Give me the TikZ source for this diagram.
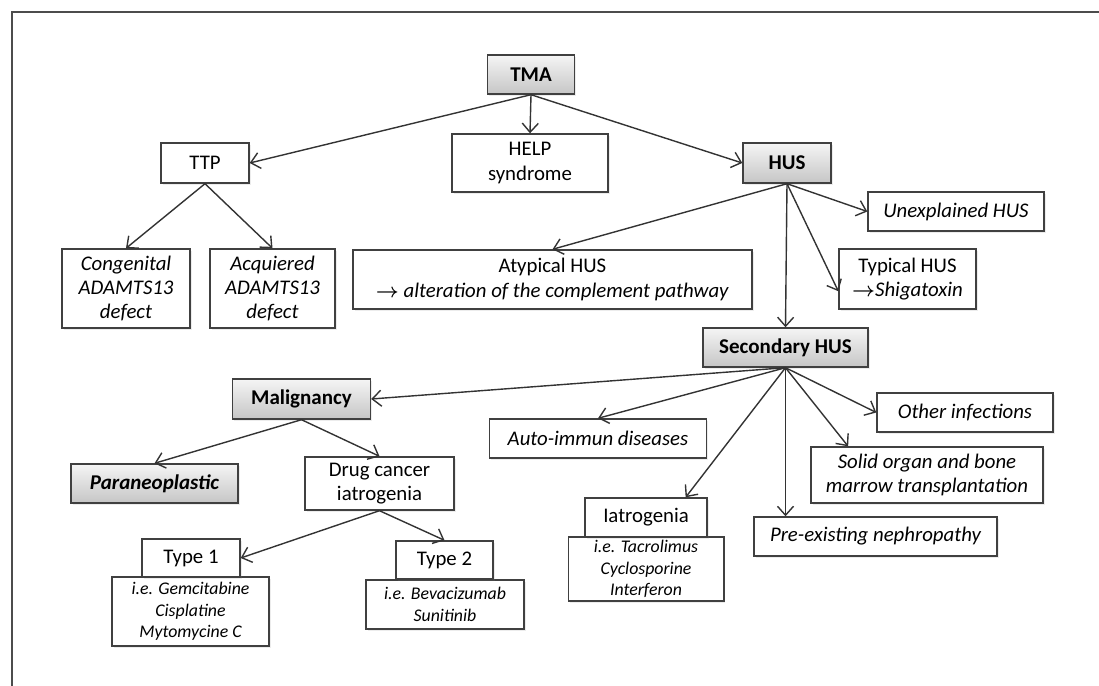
\documentclass[tikz,border=0pt]{standalone}
\usepackage{fontspec}
\setmainfont{Carlito}
\usetikzlibrary{arrows.meta, shadows}

\begin{document}
\begin{tikzpicture}[x = 0.5pt, y = -0.5pt,
		box/.style = {draw = black!75, line width = 0.7pt, fill = white, align = center, inner sep = 0pt, font = \fontsize{10.4}{12.2}\selectfont, drop shadow = {opacity = 0.15, shadow xshift = 0.8pt, shadow yshift = -0.8pt}},
		note/.style = {box, font = \fontsize{10.4}{12.2}\selectfont\itshape},
		detail/.style = {box, font = \fontsize{8.9}{10.8}\selectfont\itshape},
		grey box/.style = {box, top color = gray!8, bottom color = gray!45, font = \fontsize{10.5}{12.2}\selectfont\bfseries},
		link/.style = {draw = black!80, line width = 0.7pt, -{Straight Barb[length = 4.5pt, width = 8pt]}}]
		\useasboundingbox (0, 0) rectangle (1099, 686);
		\draw[black!70, line width = 0.7pt] (12, 686) -- (12, 12) -- (1099, 12);

		\node[grey box, minimum width = 43.75pt, minimum height = 19.5pt] (tma) at (531, 74.5) {TMA};
		\node[box, minimum width = 78pt, minimum height = 29pt] (help) at (530, 163) {HELP\\syndrome};
		\node[box, minimum width = 44pt, minimum height = 20pt] (ttp) at (205, 163) {TTP};
		\node[grey box, minimum width = 44pt, minimum height = 20pt] (hus) at (787, 163) {HUS};
		\node[note, minimum width = 64pt, minimum height = 39.5pt] (congenital) at (126, 288.5) {Congenital\\ADAMTS13\\defect};
		\node[note, minimum width = 62.5pt, minimum height = 39.5pt] (acquired) at (272.5, 288.5) {Acquiered\\ADAMTS13\\defect};
		\node[box, minimum width = 199.5pt, minimum height = 29.5pt] (atypical) at (552.5, 279.5) {Atypical HUS\\{\boldmath$\rightarrow$} \textit{alteration of the complement pathway}};
		\node[note, minimum width = 88pt, minimum height = 19.5pt] (unexplained) at (956, 211.5) {Unexplained HUS};
		\node[box, minimum width = 68.5pt, minimum height = 30pt] (typical) at (907.5, 279) {Typical HUS\\{\boldmath$\rightarrow$}\textit{Shigatoxin}};
		\node[grey box, minimum width = 82.5pt, minimum height = 19.5pt] (secondary) at (785.5, 347.5) {Secondary HUS};

		\node[grey box, minimum width = 69pt, minimum height = 20pt] (malignancy) at (301.5, 399) {Malignancy};
		\node[grey box, minimum width = 83.5pt, minimum height = 19.5pt, font = \fontsize{10.5}{12.2}\selectfont\bfseries\itshape] (paraneoplastic) at (154.5, 483.5) {Paraneoplastic};
		\node[box, minimum width = 74.5pt, minimum height = 26.5pt] (drug) at (379.5, 483.5) {Drug cancer\\iatrogenia};
		\node[detail, minimum width = 78.5pt, minimum height = 34.5pt] (type1 list) at (190.5, 611.5) {i.e. Gemcitabine\\Cisplatine\\Mytomycine C};
		\node[box, minimum width = 49pt, minimum height = 19pt] (type1) at (191, 558) {Type 1};
		\node[detail, minimum width = 79pt, minimum height = 24.5pt] (type2 list) at (445, 604.5) {i.e. Bevacizumab\\Sunitinib};
		\node[box, minimum width = 48.5pt, minimum height = 19pt] (type2) at (444.5, 560) {Type 2};

		\node[note, minimum width = 108.25pt, minimum height = 19.5pt] (autoimmun) at (598, 438.5) {Auto-immun diseases};
		\node[detail, minimum width = 77.8pt, minimum height = 32pt] (iatrogenia list) at (646, 569) {i.e. Tacrolimus\\Cyclosporine\\Interferon};
		\node[box, minimum width = 61pt, minimum height = 19.5pt] (iatrogenia) at (646, 517.5) {Iatrogenia};
		\node[note, minimum width = 88pt, minimum height = 19.5pt] (infections) at (965, 412.5) {Other infections};
		\node[note, minimum width = 116pt, minimum height = 28pt] (transplant) at (927, 475) {Solid organ and bone\\marrow transplantation};
		\node[note, minimum width = 121.5pt, minimum height = 19.5pt] (nephropathy) at (875.5, 536.5) {Pre-existing nephropathy};

		\draw[link] (tma.south) to (ttp.east);
		\draw[link] (tma.south) to (help.north);
		\draw[link] (tma.south) to (hus.west);
		\draw[link] (ttp.south) to (congenital.north);
		\draw[link] (ttp.south) to (acquired.north);
		\draw[link] (hus.south) to (atypical.north);
		\draw[link] (hus.south) to (unexplained.west);
		\draw[link] (hus.south) to (typical.190);
		\draw[link] (hus.south) to (secondary.north);
		\draw[link] (secondary.south) to (malignancy.east);
		\draw[link] (secondary.south) to (autoimmun.north);
		\draw[link] (secondary.south) to (iatrogenia.27);
		\draw[link] (secondary.south) to (secondary.south |- nephropathy.north);
		\draw[link] (secondary.south) to (transplant.160);
		\draw[link] (secondary.south) to (infections.west);
		\draw[link] (malignancy.south) to (paraneoplastic.north);
		\draw[link] (malignancy.south) to (drug.north);
		\draw[link] (drug.south) to (type1.east);
		\draw[link] (drug.south) to (type2.north);
	\end{tikzpicture}
\end{document}
